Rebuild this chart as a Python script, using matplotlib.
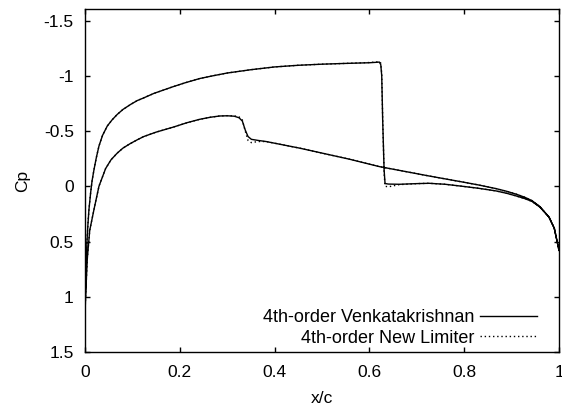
import matplotlib
matplotlib.use("Agg")
import matplotlib.pyplot as plt

plt.rcParams['font.family'] = ['Liberation Sans', 'DejaVu Sans']

# lower surface, leading edge -> trailing edge
x_low = [0.0, 0.002, 0.005, 0.01, 0.019, 0.0295, 0.0435, 0.055, 0.068, 0.08, 0.095,
         0.11, 0.124, 0.15, 0.186, 0.215, 0.242, 0.265, 0.284, 0.3, 0.315, 0.325,
         0.332, 0.338, 0.344, 0.351, 0.365, 0.382, 0.453, 0.558, 0.621, 0.726,
         0.796, 0.83, 0.867, 0.89, 0.91, 0.928, 0.943, 0.96, 0.979, 0.99, 0.996, 1.0]
cp_low_venk = [1.15, 0.93, 0.65, 0.40, 0.21, 0.0, -0.16, -0.24, -0.30, -0.345, -0.385,
               -0.42, -0.45, -0.49, -0.535, -0.575, -0.606, -0.625, -0.636, -0.638,
               -0.634, -0.62, -0.59, -0.51, -0.45, -0.425, -0.415, -0.405, -0.345, -0.245,
               -0.178, -0.093, -0.039, -0.012, 0.021, 0.046, 0.072, 0.10, 0.13, 0.185,
               0.28, 0.38, 0.50, 0.58]
cp_low_new = [1.15, 0.93, 0.65, 0.40, 0.21, 0.0, -0.16, -0.24, -0.30, -0.345, -0.385,
              -0.42, -0.45, -0.49, -0.535, -0.575, -0.606, -0.625, -0.636, -0.639,
              -0.637, -0.628, -0.60, -0.50, -0.415, -0.395, -0.405, -0.405, -0.345, -0.245,
              -0.178, -0.093, -0.039, -0.012, 0.021, 0.046, 0.072, 0.10, 0.13, 0.185,
              0.28, 0.38, 0.50, 0.58]

# upper surface, leading edge -> trailing edge
x_up = [0.0, 0.001, 0.002, 0.004, 0.006, 0.0084, 0.012, 0.015, 0.019, 0.024, 0.0295,
        0.037, 0.047, 0.057, 0.068, 0.08, 0.096, 0.11, 0.124, 0.145, 0.165, 0.185,
        0.21, 0.242, 0.27, 0.3, 0.35, 0.4, 0.45, 0.5, 0.55, 0.6, 0.615, 0.621,
        0.624, 0.626, 0.628, 0.631, 0.633, 0.64, 0.663, 0.7, 0.726, 0.76, 0.796,
        0.83, 0.867, 0.89, 0.91, 0.928, 0.943, 0.96, 0.979, 0.99, 0.996, 1.0]
cp_up_venk = [1.15, 0.95, 0.75, 0.52, 0.36, 0.21, 0.056, -0.05, -0.15, -0.26, -0.364,
              -0.46, -0.545, -0.60, -0.65, -0.695, -0.74, -0.775, -0.80, -0.84, -0.87,
              -0.90, -0.935, -0.975, -1.0, -1.025, -1.055, -1.08, -1.095, -1.105, -1.112,
              -1.118, -1.122, -1.124, -1.10, -1.0, -0.6, -0.15, -0.025, -0.02, -0.018,
              -0.024, -0.027, -0.018, 0.0, 0.018, 0.042, 0.064, 0.088, 0.112, 0.137,
              0.19, 0.28, 0.38, 0.50, 0.58]
cp_up_new = [1.15, 0.95, 0.75, 0.52, 0.36, 0.21, 0.056, -0.05, -0.15, -0.26, -0.364,
             -0.46, -0.545, -0.60, -0.65, -0.695, -0.74, -0.775, -0.80, -0.84, -0.87,
             -0.90, -0.935, -0.975, -1.0, -1.025, -1.055, -1.08, -1.095, -1.105, -1.112,
             -1.12, -1.125, -1.127, -1.115, -1.02, -0.62, -0.12, 0.0, 0.005, -0.015,
             -0.024, -0.027, -0.018, 0.0, 0.018, 0.042, 0.064, 0.088, 0.112, 0.137,
             0.19, 0.28, 0.38, 0.50, 0.58]

xticks = [0, 0.2, 0.4, 0.6, 0.8, 1]
xticklabels = ["0", "0.2", "0.4", "0.6", "0.8", "1"]
yticks = [-1.5, -1, -0.5, 0, 0.5, 1, 1.5]
yticklabels = ["-1.5", "-1", "-0.5", "0", "0.5", "1", "1.5"]

fig = plt.figure(figsize=(5.62, 4.07), dpi=100)
ax = fig.add_axes([0.1512, 0.1351, 0.8435, 0.8416])

# one closed curve per method: trailing edge -> lower -> leading edge -> upper
xs = x_low[::-1] + x_up[1:]
ax.plot(xs, cp_low_venk[::-1] + cp_up_venk[1:], color="black", lw=1.0,
        label="4th-order Venkatakrishnan")
ax.plot(xs, cp_low_new[::-1] + cp_up_new[1:], color="black", lw=1.0,
        linestyle=(0, (1, 2)), label="4th-order New Limiter")

ax.set_xlim(0, 1)
ax.set_ylim(1.5, -1.6)
ax.set_xticks(xticks)
ax.set_xticklabels(xticklabels)
ax.set_yticks(yticks)
ax.set_yticklabels(yticklabels)
ax.tick_params(direction="in", length=3.8, width=1.0, top=True, right=True,
               labelsize=12.5)
ax.tick_params(axis="y", pad=8)
ax.tick_params(axis="x", pad=9)
for s in ax.spines.values():
    s.set_linewidth(1.0)

ax.set_xlabel("x/c", fontsize=12.5, labelpad=8)
ax.set_ylabel("Cp", fontsize=12.5, labelpad=10)

ax.legend(loc="lower right", frameon=False, markerfirst=False, fontsize=13,
          handlelength=3.15, handletextpad=0.3, labelspacing=0.2,
          borderaxespad=0.0, bbox_to_anchor=(0.968, -0.005))

fig.savefig("out.png", dpi=100)
